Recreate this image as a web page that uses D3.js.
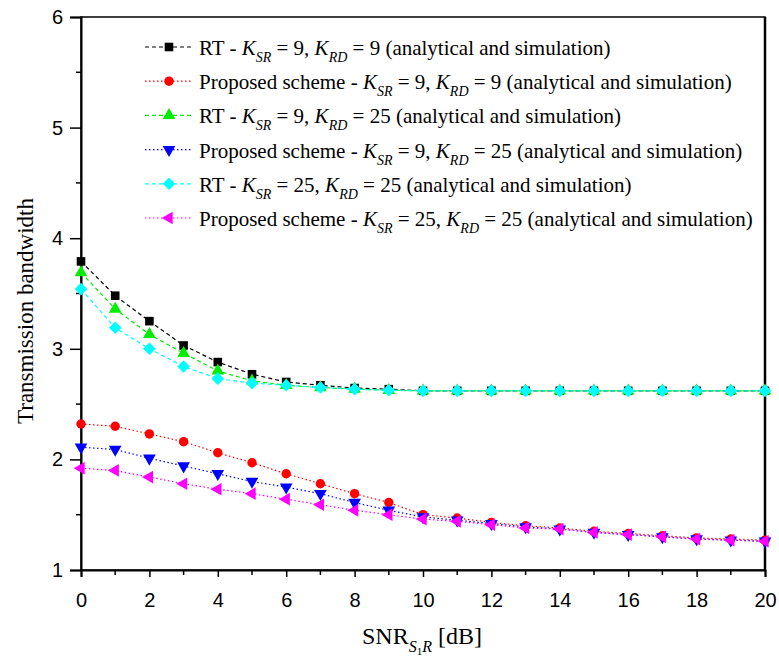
<!DOCTYPE html>
<html>
<head>
<meta charset="utf-8">
<script src="https://cdn.jsdelivr.net/npm/d3@7"></script>
<style>
  body { margin: 0; background: #fff; }
  svg text { fill: #000; }
</style>
</head>
<body>
<script>
// SNR sweep (dB)
var snr = d3.range(0, 21);

// transmission bandwidth per scheme
var rt_9_9 = [3.79, 3.48, 3.25, 3.03, 2.88, 2.77, 2.70, 2.67, 2.645, 2.635, 2.62, 2.62, 2.62, 2.62, 2.62, 2.62, 2.62, 2.62, 2.62, 2.62, 2.62];
var prop_9_9 = [2.32, 2.30, 2.23, 2.16, 2.06, 1.97, 1.87, 1.78, 1.69, 1.61, 1.50, 1.47, 1.43, 1.40, 1.38, 1.35, 1.33, 1.31, 1.29, 1.28, 1.27];
var rt_9_25 = [3.69, 3.36, 3.13, 2.96, 2.80, 2.71, 2.67, 2.65, 2.635, 2.625, 2.62, 2.62, 2.62, 2.62, 2.62, 2.62, 2.62, 2.62, 2.62, 2.62, 2.62];
var prop_9_25 = [2.11, 2.09, 2.01, 1.94, 1.87, 1.80, 1.75, 1.69, 1.61, 1.54, 1.48, 1.45, 1.42, 1.39, 1.37, 1.34, 1.32, 1.30, 1.28, 1.27, 1.26];
var rt_25_25 = [3.54, 3.19, 3.00, 2.84, 2.73, 2.69, 2.67, 2.65, 2.635, 2.625, 2.62, 2.62, 2.62, 2.62, 2.62, 2.62, 2.62, 2.62, 2.62, 2.62, 2.62];
var prop_25_25 = [1.92, 1.90, 1.84, 1.78, 1.73, 1.69, 1.64, 1.59, 1.54, 1.50, 1.46, 1.44, 1.41, 1.38, 1.37, 1.34, 1.32, 1.30, 1.28, 1.27, 1.26];

var xTicks = d3.range(0, 21, 2);
var yTicks = [1, 2, 3, 4, 5, 6];

var series = [
  { name: 'RT', ksr: '9', krd: '9', values: rt_9_9, color: '#000000', dash: '4,3', marker: 'square' },
  { name: 'Proposed scheme', ksr: '9', krd: '9', values: prop_9_9, color: '#ff0000', dash: '1.5,2.5', marker: 'circle' },
  { name: 'RT', ksr: '9', krd: '25', values: rt_9_25, color: '#00ee00', dash: '4,3', marker: 'up' },
  { name: 'Proposed scheme', ksr: '9', krd: '25', values: prop_9_25, color: '#0000ff', dash: '1.5,2.5', marker: 'down' },
  { name: 'RT', ksr: '25', krd: '25', values: rt_25_25, color: '#00ffff', dash: '4,3', marker: 'diamond' },
  { name: 'Proposed scheme', ksr: '25', krd: '25', values: prop_25_25, color: '#ff00ff', dash: '1.5,2.5', marker: 'left' }
];

var width = 779, height = 660;
var margin = { left: 81, right: 14, top: 17, bottom: 90 };

var svg = d3.select('body').append('svg')
  .attr('width', width)
  .attr('height', height);

var x = d3.scaleLinear().domain([0, 20]).range([margin.left, width - margin.right]);
var y = d3.scaleLinear().domain([1, 6]).range([height - margin.bottom, margin.top]);

function markerPath(m) {
  switch (m) {
    case 'square': return { d: d3.symbol(d3.symbolSquare, 74)(), rot: 0 };
    case 'circle': return { d: d3.symbol(d3.symbolCircle, 70)(), rot: 0 };
    case 'up': return { d: d3.symbol(d3.symbolTriangle, 70)(), rot: 0 };
    case 'down': return { d: d3.symbol(d3.symbolTriangle, 70)(), rot: 180 };
    case 'left': return { d: d3.symbol(d3.symbolTriangle, 70)(), rot: -90 };
    case 'diamond': return { d: d3.symbol(d3.symbolSquare, 80)(), rot: 45 };
  }
}

// frame
svg.append('rect')
  .attr('x', x(0)).attr('y', y(6))
  .attr('width', x(20) - x(0)).attr('height', y(1) - y(6))
  .attr('fill', 'none').attr('stroke', '#000').attr('stroke-width', 1.5);
svg.append('line')
  .attr('x1', x(20)).attr('x2', x(20)).attr('y1', y(6)).attr('y2', y(1))
  .attr('stroke', '#000').attr('stroke-width', 2.5);

// axes
var xAxis = svg.append('g')
  .attr('transform', 'translate(0,' + y(1) + ')')
  .call(d3.axisBottom(x).tickValues(xTicks).tickSize(7).tickPadding(16).tickFormat(d3.format('d')));
var yAxis = svg.append('g')
  .attr('transform', 'translate(' + x(0) + ',0)')
  .call(d3.axisLeft(y).tickValues(yTicks).tickSize(11).tickPadding(7).tickFormat(d3.format('d')));

[xAxis, yAxis].forEach(function(g) {
  g.select('.domain').attr('stroke-width', 2);
  g.selectAll('.tick line').attr('stroke-width', 1.5);
  g.selectAll('.tick text')
    .attr('font-family', 'Liberation Sans, Arial, sans-serif')
    .attr('font-size', 20);
});

// minor ticks
svg.append('g').selectAll('line')
  .data(d3.range(1, 20, 2))
  .join('line')
  .attr('x1', function(d) { return x(d); }).attr('x2', function(d) { return x(d); })
  .attr('y1', y(1)).attr('y2', y(1) + 5)
  .attr('stroke', '#000').attr('stroke-width', 1.5);
svg.append('g').selectAll('line')
  .data([1.5, 2.5, 3.5, 4.5, 5.5])
  .join('line')
  .attr('x1', x(0) - 5).attr('x2', x(0))
  .attr('y1', function(d) { return y(d); }).attr('y2', function(d) { return y(d); })
  .attr('stroke', '#000').attr('stroke-width', 1.5);

// axis titles
svg.append('text')
  .attr('transform', 'translate(33,' + 311 + ') rotate(-90)')
  .attr('text-anchor', 'middle')
  .attr('font-family', 'Liberation Serif, Times New Roman, serif')
  .attr('font-size', 23)
  .text('Transmission bandwidth');

var xt = svg.append('text')
  .attr('x', 362).attr('y', 644)
  .attr('font-family', 'Liberation Serif, Times New Roman, serif')
  .attr('font-size', 24);
xt.append('tspan').text('SNR');
xt.append('tspan').attr('font-size', 16).attr('font-style', 'italic').attr('dy', 8).text('S');
xt.append('tspan').attr('font-size', 11).attr('dy', 3).text('1');
xt.append('tspan').attr('font-size', 16).attr('font-style', 'italic').attr('dy', -3).text('R');
xt.append('tspan').attr('dy', -8).text(' [dB]');

// curves
var line = d3.line()
  .x(function(d, i) { return x(snr[i]); })
  .y(function(d) { return y(d); });

var plot = svg.append('g');
series.forEach(function(s) {
  plot.append('path')
    .datum(s.values)
    .attr('d', line)
    .attr('fill', 'none')
    .attr('stroke', s.color)
    .attr('stroke-width', 1.2)
    .attr('stroke-dasharray', s.dash);
});
series.forEach(function(s) {
  var mk = markerPath(s.marker);
  plot.append('g').selectAll('path')
    .data(s.values)
    .join('path')
    .attr('d', mk.d)
    .attr('transform', function(d, i) { return 'translate(' + x(snr[i]) + ',' + y(d) + ') rotate(' + mk.rot + ')'; })
    .attr('fill', s.color);
});

// legend
var legend = svg.append('g')
  .attr('font-family', 'Liberation Serif, Times New Roman, serif')
  .attr('font-size', 21);
series.forEach(function(s, i) {
  var ly = 47 + i * 34.2;
  var g = legend.append('g').attr('transform', 'translate(0,' + ly + ')');
  g.append('line')
    .attr('x1', 145).attr('x2', 191).attr('y1', 0).attr('y2', 0)
    .attr('stroke', s.color).attr('stroke-width', 1.2)
    .attr('stroke-dasharray', s.dash);
  var mk = markerPath(s.marker);
  g.append('path')
    .attr('d', mk.d)
    .attr('transform', 'translate(169,0) rotate(' + mk.rot + ')')
    .attr('fill', s.color);
  var t = g.append('text').attr('x', 199).attr('y', 8);
  t.append('tspan').text(s.name + ' - ');
  t.append('tspan').attr('font-style', 'italic').text('K');
  t.append('tspan').attr('font-style', 'italic').attr('font-size', 14).attr('dy', 7).text('SR');
  t.append('tspan').attr('dy', -7).text(' = ' + s.ksr + ', ');
  t.append('tspan').attr('font-style', 'italic').text('K');
  t.append('tspan').attr('font-style', 'italic').attr('font-size', 14).attr('dy', 7).text('RD');
  t.append('tspan').attr('dy', -7).text(' = ' + s.krd + ' (analytical and simulation)');
});
</script>
</body>
</html>
